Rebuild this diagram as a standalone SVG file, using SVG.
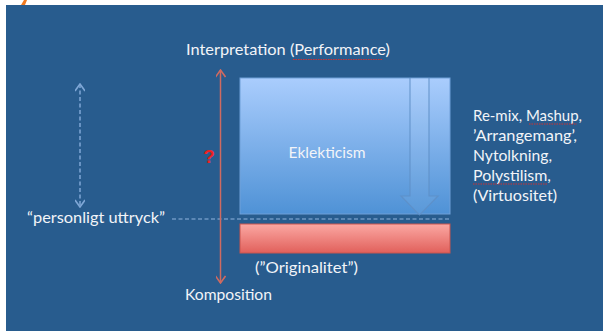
<svg xmlns="http://www.w3.org/2000/svg" width="603" height="331" viewBox="0 0 603 331">
  <defs>
    <linearGradient id="gBlue" x1="0" y1="0" x2="0" y2="1">
      <stop offset="0" stop-color="#aacdfd"/>
      <stop offset="1" stop-color="#4f92d6"/>
    </linearGradient>
    <linearGradient id="gRed" x1="0" y1="0" x2="0" y2="1">
      <stop offset="0" stop-color="#fba8a3"/>
      <stop offset="1" stop-color="#e1605b"/>
    </linearGradient>
    <marker id="mRed" viewBox="0 0 10 10" refX="9" refY="5" markerWidth="10" markerHeight="10" markerUnits="userSpaceOnUse" orient="auto-start-reverse">
      <path d="M2,0 L9,5 L2,10" fill="none" stroke="#cf6a60" stroke-width="1.6"/>
    </marker>
    <marker id="mBlue" viewBox="0 0 10 10" refX="9" refY="5" markerWidth="10" markerHeight="10" markerUnits="userSpaceOnUse" orient="auto-start-reverse">
      <path d="M2,0 L9,5 L2,10" fill="none" stroke="#7fa7d6" stroke-width="1.6"/>
    </marker>
  </defs>
  <style>
    .t { font-family: Lato, "Open Sans", "Liberation Sans", sans-serif; font-size: 15px; fill: #f2f4f8; }
    .wavy { fill: none; stroke: #d03030; stroke-width: 1; stroke-dasharray: 1.5 1; }
  </style>
  <rect x="0" y="0" width="603" height="331" fill="#ffffff"/>
  <rect x="6" y="5" width="597" height="326" fill="#285c8e"/>
  <path d="M21,5 L24,0 L27,0 L25,5 Z" fill="#f07a20"/>

  <g id="eklekticism">
    <rect x="240" y="78" width="210" height="136" fill="url(#gBlue)" stroke="#6f9fd8" stroke-width="1"/>
    <path d="M410,78 V196 H401 L419.5,215 L438,196 H429 V78" fill="#ffffff" fill-opacity="0.06" stroke="#5e8ec6" stroke-opacity="0.8" stroke-width="1.2"/>
    <text class="t" x="327" y="158" text-anchor="middle" textLength="77" lengthAdjust="spacingAndGlyphs">Eklekticism</text>
  </g>

  <g id="originalitet">
    <rect x="240" y="224" width="210" height="29" fill="url(#gRed)" stroke="#c8544f" stroke-width="1"/>
    <text class="t" x="255" y="273" textLength="103" lengthAdjust="spacingAndGlyphs">(”Originalitet”)</text>
  </g>

  <g id="interpretation">
    <text class="t" x="186" y="55" textLength="204" lengthAdjust="spacingAndGlyphs">Interpretation (Performance)</text>
    <path class="wavy" d="M293,59.5 H382"/>
  </g>

  <g id="komposition">
    <text class="t" x="185" y="300" textLength="87" lengthAdjust="spacingAndGlyphs">Komposition</text>
  </g>

  <g id="personligt">
    <text class="t" x="27" y="223" textLength="138" lengthAdjust="spacingAndGlyphs">“personligt uttryck”</text>
  </g>

  <g id="examples">
    <text class="t" x="473" y="121" textLength="109" lengthAdjust="spacingAndGlyphs">Re-mix, Mashup,</text>
    <text class="t" x="473" y="141" textLength="104" lengthAdjust="spacingAndGlyphs">’Arrangemang’,</text>
    <text class="t" x="473" y="161" textLength="79" lengthAdjust="spacingAndGlyphs">Nytolkning,</text>
    <text class="t" x="473" y="181" textLength="78" lengthAdjust="spacingAndGlyphs">Polystilism,</text>
    <text class="t" x="473" y="201" textLength="84" lengthAdjust="spacingAndGlyphs">(Virtuositet)</text>
    <path class="wavy" d="M529,124 H577"/>
    <path class="wavy" d="M473,184 H548"/>
  </g>

  <g id="question">
    <text x="209" y="163" text-anchor="middle" font-family="'Liberation Sans', sans-serif" font-size="19" font-weight="bold" fill="#ee2222">?</text>
  </g>

  <g id="connectors">
    <line x1="172" y1="219" x2="450" y2="219" stroke="#8fb3de" stroke-width="1.2" stroke-dasharray="4 2.5"/>
    <line x1="220.5" y1="70" x2="220.5" y2="283" stroke="#cf6a60" stroke-width="1.5" marker-start="url(#mRed)" marker-end="url(#mRed)"/>
    <line x1="80" y1="84" x2="80" y2="207" stroke="#7fa7d6" stroke-width="1.5" stroke-dasharray="4 2.5" marker-start="url(#mBlue)" marker-end="url(#mBlue)"/>
  </g>
</svg>
